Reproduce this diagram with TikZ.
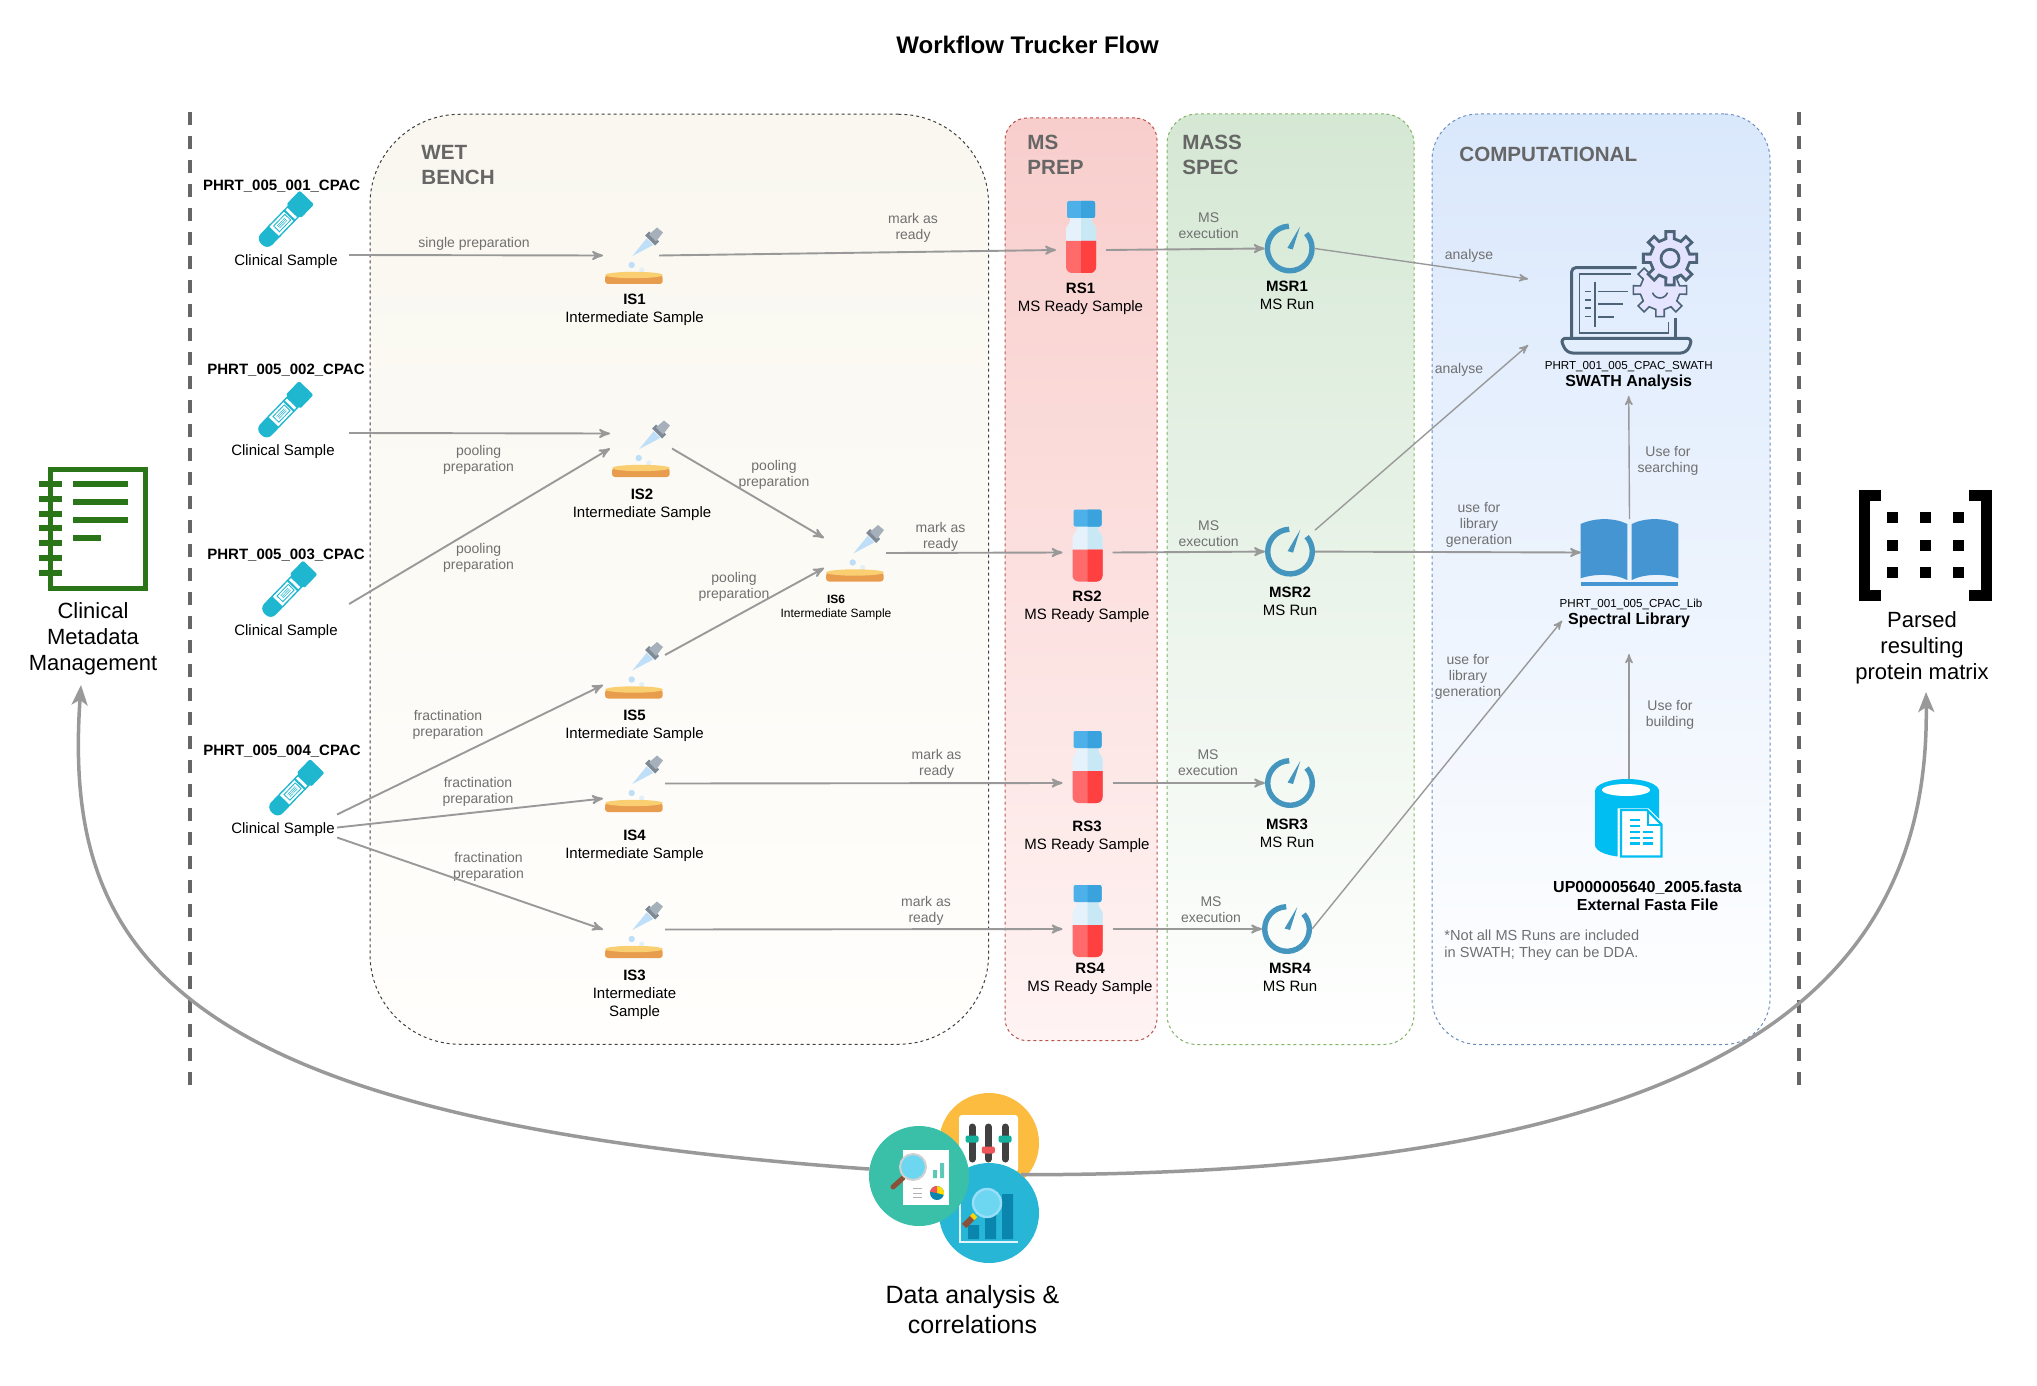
\documentclass[tikz,border=0pt]{standalone}
\usepackage{fontspec}
\setmainfont{Liberation Sans}
\usetikzlibrary{positioning, calc, arrows, arrows.meta, shapes}

\definecolor{linegray}{HTML}{999999}
\definecolor{labelgray}{HTML}{707070}
\definecolor{headgray}{HTML}{666666}
\definecolor{tubeblue}{HTML}{1FB6D0}
\definecolor{gaugeblue}{HTML}{4596BF}
\definecolor{laptopgray}{HTML}{4D6478}
\definecolor{bookblue}{HTML}{4595D3}
\definecolor{fastablue}{HTML}{00BEF2}
\definecolor{notegreen}{HTML}{2A7518}
\definecolor{magglass}{HTML}{6DD6F0}
\definecolor{handle}{HTML}{8B5138}
\definecolor{wettop}{HTML}{F9F7EF}
\definecolor{wetbot}{HTML}{FFFEFC}
\definecolor{prepdraw}{HTML}{B85450}
\definecolor{preptop}{HTML}{F8CECC}
\definecolor{prepbot}{HTML}{FFF3F3}
\definecolor{massdraw}{HTML}{82B366}
\definecolor{masstop}{HTML}{D5E8D4}
\definecolor{compdraw}{HTML}{6C8EBF}
\definecolor{comptop}{HTML}{DAE8FC}
\definecolor{circyellow}{HTML}{FBBC3F}
\definecolor{circblue}{HTML}{27B6D6}
\definecolor{circgreen}{HTML}{3ABFA8}
\definecolor{knobteal}{HTML}{16B19C}
\definecolor{knobred}{HTML}{F05658}
\definecolor{barblue}{HTML}{0A85AD}
\definecolor{glassblue}{HTML}{BFDFF8}
\definecolor{dropblue}{HTML}{E2F0FA}
\definecolor{collargray}{HTML}{7D8A96}
\definecolor{bulbgray}{HTML}{A5B0BA}
\definecolor{dishtop}{HTML}{F9CF72}
\definecolor{dishside}{HTML}{E89C4E}
\definecolor{vialleft}{HTML}{E6F2FB}
\definecolor{vialright}{HTML}{C8E8F5}
\definecolor{redleft}{HTML}{FF6B6B}
\definecolor{redright}{HTML}{FF4040}
\definecolor{capleft}{HTML}{4DB0E8}
\definecolor{capright}{HTML}{3AA3DD}

\tikzset{
  panel/.style={draw=#1, line width=.5pt, dash pattern=on 1.5pt off 1.5pt, inner sep=0pt, outer sep=0pt},
  head/.style={font=\fontsize{10.3}{12.4}\selectfont\bfseries, text=headgray, align=left, anchor=west, inner sep=0pt, yshift=-.4pt},
  flowlabel/.style={font=\fontsize{7}{8}\selectfont, text=labelgray, align=center, inner sep=1pt, yshift=-.8pt},
  item/.style={font=\fontsize{7.5}{9}\selectfont, align=center, inner sep=1pt, yshift=-1pt},
  smallitem/.style={font=\fontsize{6}{7}\selectfont, align=center, inner sep=1pt, yshift=-1pt},
  big/.style={font=\fontsize{11}{13}\selectfont, align=center, inner sep=1pt, yshift=-1pt},
  port/.style={inner sep=0pt, outer sep=0pt, minimum width=#1},
  isport/.style={port=31pt, minimum height=15pt},
  rsport/.style={port=25pt, minimum height=15pt},
  msrport/.style={port=25pt, minimum height=21.5pt},
  flow/.style={every edge/.append style={->, draw=linegray, line width=.95pt}},
  thinflow/.style={every edge/.append style={->, draw=linegray, line width=.7pt}},
  bigflow/.style={-{Stealth[length=10pt, width=8pt, inset=2.5pt]}, draw=linegray, line width=1.75pt},
  border/.style={draw=headgray, line width=2pt, dash pattern=on 6.7pt off 5.3pt},
  disc/.style={circle, fill=#1, minimum size=50pt, inner sep=0pt, outer sep=0pt},
  tube/.pic={
    \begin{scope}[rotate=46]
      \fill[tubeblue, rounded corners=3.5pt] (-33,-8) rectangle (-6,8);
      \fill[tubeblue] (-15,-8) rectangle (14,8);
      \fill[white] (-15,-6.5) rectangle (11,6.5);
      \fill[tubeblue] (-12,-4.5) rectangle (5,4.5);
      \fill[white] (-11,-3.5) rectangle (4,3.5);
      \draw[tubeblue, line width=.25pt] (-9,-1.6) -- (2,-1.6) (-9,0) -- (2,0) (-9,1.6) -- (2,1.6);
      \fill[tubeblue] (6,-8) rectangle (8,8);
      \fill[tubeblue, rounded corners=1pt] (13,-10) rectangle (32,10);
    \end{scope}
  },
  dropper/.pic={
    \fill[glassblue] (-1.7,.5) -- (12.7,-17.2) -- (19.3,-10.5) -- cycle;
    \fill[collargray] (11,-20) -- (15,-24) -- (25,-14) -- (21,-10) -- cycle;
    \fill[bulbgray] (15,-21) -- (23,-28) -- (29,-23) -- (22,-14) -- cycle;
    \fill[glassblue] (-2.3,9.5) circle[radius=1.6pt];
    \fill[dropblue] (7.7,14.5) circle[radius=1.3pt];
    \fill[dishside, rounded corners=1.5pt] (-29,19.5) -- (-29,28.5) -- (28.7,28.5) -- (28.7,19.5) -- cycle;
    \fill[dishtop] (0,19.5) ellipse[x radius=14.4pt, y radius=1.6pt];
  },
  bottle/.pic={
    \fill[vialleft] (-11,-33) -- (-11,-28) -- (-15,-22) -- (-15,-9) -- (15,-9) -- (15,-22) -- (11,-28) -- (11,-33) -- cycle;
    \fill[vialright] (0,-33) -- (11,-33) -- (11,-28) -- (15,-22) -- (15,-9) -- (0,-9) -- cycle;
    \fill[redleft] (-15,-9) -- (-15,5) [rounded corners=3pt] -- (-15,23) -- (15,23) [sharp corners] -- (15,-9) -- cycle;
    \fill[redright] (0,-9) -- (0,23) [rounded corners=3pt] -- (15,23) [sharp corners] -- (15,-9) -- cycle;
    \fill[capleft, rounded corners=1pt] (-14,-49) rectangle (14,-32);
    \fill[capright] (0,-49) [rounded corners=1pt] -- (14,-49) -- (14,-32) [sharp corners] -- (0,-32) -- cycle;
  },
  gauge/.pic={
    \draw[gaugeblue, line width=2.7pt] (92:11.15pt) arc[start angle=92, end angle=402, radius=11.15pt];
    \fill[gaugeblue] (10.3,-22) -- (3,1) -- (-2.4,-.5) -- cycle;
  },
  laptop/.pic={
    \begin{scope}[draw=laptopgray, line width=1.5pt, fill=none]
      \draw[rounded corners=2pt] (8,-44.3) -- (-57,-44.3) -- (-57,26.3);
      \draw (47,5.7) -- (47,26.3);
      \draw[rounded corners=3pt] (-68.7,26.3) -- (64,26.3) -- (58,41) -- (-62,41) -- cycle;
    \end{scope}
    \begin{scope}[draw=laptopgray, line width=.8pt]
      \draw (2,-37.7) -- (-49.4,-37.7) -- (-49.4,21.3) -- (39.6,21.3) -- (39.6,9.7);
      \draw (-33.7,-30.3) -- (-33.7,14.7);
      \draw (-30.4,-20.3) -- (-1,-20.3) (-30.4,-8) -- (-6,-8) (-30.4,5.3) -- (-14.7,5.3);
      \foreach \y in {-20.3,-12,-3.7,4.7} \draw (-43.7,\y) -- (-37.7,\y);
      \begin{scope}[shift={(31.3,-22)}]
        \draw[fill=blue!10!white] (-12:10pt) foreach \a in {0,45,...,315} {-- (\a-12:10pt) -- (\a-9:13.5pt) -- (\a+9:13.5pt) -- (\a+12:10pt)} -- cycle;
        \draw (-160:4pt) arc[start angle=-160, end angle=-20, radius=4pt];
      \end{scope}
    \end{scope}
    \begin{scope}[shift={(41.3,-53.7)}, draw=laptopgray, line width=1.4pt]
      \draw[fill=blue!11!white] (-12:10pt) foreach \a in {0,45,...,315} {-- (\a-12:10pt) -- (\a-9:13.5pt) -- (\a+9:13.5pt) -- (\a+12:10pt)} -- cycle;
      \draw (0,0) circle[radius=4.5pt];
    \end{scope}
  },
  book/.pic={
    \fill[bookblue] (-48.8,-28.5) .. controls (-35,-35) and (-15,-35) .. (-2.2,-28.5) -- (-2.2,27.5) .. controls (-15,21) and (-35,21) .. (-48.8,25.8) -- cycle;
    \fill[bookblue] (48.8,-28.5) .. controls (35,-35) and (15,-35) .. (2.2,-28.5) -- (2.2,27.5) .. controls (15,21) and (35,21) .. (48.8,25.8) -- cycle;
    \fill[bookblue] (-48.8,29.5) rectangle (48.8,33);
  },
  fastadb/.pic={
    \fill[fastablue] (-34,-27) -- (-34,27) arc[start angle=180, end angle=360, x radius=16pt, y radius=6pt] -- (30,-27) arc[start angle=0, end angle=180, x radius=16pt, y radius=6pt] -- cycle;
    \fill[white] (-3,-28) ellipse[x radius=12pt, y radius=3pt];
    \fill[white] (-11.3,-9.7) -- (19.3,-9.7) -- (34.3,5.3) -- (34.3,39.7) -- (-11.3,39.7) -- cycle;
    \draw[fastablue, line width=1.2pt] (-8,-8) -- (18,-8) -- (32.5,6.5) -- (32.5,38.5) -- (-8,38.5) -- cycle;
    \draw[fastablue, line width=1.2pt] (19,-8) -- (19,7) -- (32.5,7);
    \draw[fastablue, line width=1.2pt] (1,2) -- (11,2) (1,8) -- (11,8) (1,13.7) -- (11,13.7) (1,19.7) -- (11,19.7) (1,25.3) -- (11,25.3)
      (14.3,13.7) -- (24.3,13.7) (14.3,19.7) -- (24.3,19.7) (14.3,25.3) -- (24.3,25.3);
  },
  notebook/.pic={
    \draw[notegreen, line width=2.65pt] (-43.35,-58.35) rectangle (51.35,60.35);
    \foreach \y in {-44,-29,-14,0,15,30,45} \draw[notegreen, line width=2.65pt] (-55,\y) -- (-32,\y);
    \foreach \y in {-44,-26,-8} \draw[notegreen, line width=2.65pt] (-21,\y) -- (34,\y);
    \draw[notegreen, line width=2.65pt] (-21,10) -- (7,10);
  },
  matrixicon/.pic={
    \draw[black, line width=5.5pt] (-44,-50) -- (-61,-50) -- (-61,50) -- (-44,50);
    \draw[black, line width=5.5pt] (44,-50) -- (61,-50) -- (61,50) -- (44,50);
    \foreach \x in {-33,0,33} \foreach \y in {-27.5,0,27.5}
      \fill[black] (\x-5.5,\y-5.5) rectangle (\x+5.5,\y+5.5);
  }
}

\begin{document}
\begin{tikzpicture}[x=.5pt,y=-.5pt,>=stealth',font=\fontsize{7.5}{9}\selectfont]
  \useasboundingbox (0,0) rectangle (2037,1385);

  \node[font=\fontsize{12}{14}\selectfont\bfseries] (title) at (1027.6,45) {Workflow Trucker Flow};

  % swim lanes
  \node[panel=black!75, rounded corners=45pt, top color=wettop, bottom color=wetbot, minimum width=309.3pt, minimum height=465pt] (wet) at (679.3,579.25) {};
  \node[panel=prepdraw, rounded corners=11pt, top color=preptop, bottom color=prepbot, minimum width=76pt, minimum height=461.3pt] (prep) at (1081,579.3) {};
  \node[panel=massdraw, rounded corners=15pt, top color=masstop, bottom color=white, minimum width=123.5pt, minimum height=465.25pt] (mass) at (1290.5,579.25) {};
  \node[panel=compdraw, rounded corners=23pt, top color=comptop, bottom color=white, minimum width=169pt, minimum height=465.25pt] (comp) at (1601,579.25) {};

  \node[head] (wethead) at (421,164) {WET\\BENCH};
  \node[head] (prephead) at (1027,154) {MS\\PREP};
  \node[head] (masshead) at (1182,154) {MASS\\SPEC};
  \node[head] (comphead) at (1459,153.5) {COMPUTATIONAL};

  \coordinate (lefttop) at (190,112);
  \coordinate (leftbot) at (190,1085);
  \coordinate (righttop) at (1799,112);
  \coordinate (rightbot) at (1799,1085);
  \draw[border] (lefttop) -- (leftbot);
  \draw[border] (righttop) -- (rightbot);

  % samples
  \foreach \n/\px/\py/\lx/\ly/\tx/\ty/\id in {
      1/284.6/220.5/286/260/281.7/184.6/001,
      2/284/411/283/450/286/368/002,
      3/288/590.5/286/630/286/552.7/003,
      4/295/789/283/827.5/282/749.5/004}{
    \node[port=27.5pt, minimum height=28pt] (s\n) at (\px,\py) {};
    \pic at (s\n) {tube};
    \node[item] (cs\n) at (\lx,\ly) {Clinical Sample};
    \node[item, font=\fontsize{7.5}{9}\selectfont\bfseries] (id\n) at (\tx,\ty) {PHRT\_005\_\id\_CPAC};
  }

  % intermediate samples
  \foreach \n/\px/\py in {1/634/255.5, 2/641/448.5, 5/634/670, 4/634/783.5, 3/634/929.5, 6/855/553}{
    \node[isport] (is\n) at (\px,\py) {};
    \pic at (is\n) {dropper};
  }
  \node[item] (is1label) at (634.5,308) {\textbf{IS1}\\Intermediate Sample};
  \node[item] (is2label) at (642,503) {\textbf{IS2}\\Intermediate Sample};
  \node[item] (is5label) at (634.5,723.5) {\textbf{IS5}\\Intermediate Sample};
  \node[item] (is4label) at (634.5,843.5) {\textbf{IS4}\\Intermediate Sample};
  \node[item] (is3label) at (634.5,992.5) {\textbf{IS3}\\Intermediate\\Sample};
  \node[smallitem] (is6label) at (836,606) {\textbf{IS6}\\Intermediate Sample};

  % ms ready samples and runs
  \foreach \n/\rx/\ry/\d/\tx/\ty/\gx/\gy/\lx/\ly in {
      1/1081/250/0pt/1080.5/297/1289.7/248.5/1287/293,
      2/1087.5/552.5/-3pt/1087/605/1290/551.6/1290/599,
      3/1087.5/783/1.5pt/1087/834.5/1290/783/1287/831,
      4/1087.5/929/-2.5pt/1090/977/1287/929/1290/975}{
    \node[rsport] (rs\n) at (\rx,\ry) {};
    \pic at ([yshift=\d]rs\n) {bottle};
    \node[item] (rs\n label) at (\tx,\ty) {\textbf{RS\n}\\MS Ready Sample};
    \node[msrport] (msr\n) at (\gx,\gy) {};
    \pic at (msr\n) {gauge};
    \node[item] (msr\n label) at (\lx,\ly) {\textbf{MSR\n}\\MS Run};
  }

  % computational
  \node[port=100.5pt, minimum height=33pt] (swath) at (1628.7,312) {};
  \pic at (swath) {laptop};
  \node[item, font=\fontsize{5.8}{7}\selectfont] (swathid) at (1628.7,364.5) {PHRT\_001\_005\_CPAC\_SWATH};
  \node[item, font=\fontsize{8}{9}\selectfont\bfseries, inner sep=2.8pt] (swathlabel) at (1628.7,380.5) {SWATH Analysis};
  \node[port=48.5pt, minimum height=33.5pt] (library) at (1629.5,552.5) {};
  \pic at (library) {book};
  \node[item, font=\fontsize{5.8}{7}\selectfont] (libid) at (1631,602.5) {PHRT\_001\_005\_CPAC\_Lib};
  \node[item, font=\fontsize{8}{9}\selectfont\bfseries, inner sep=2.8pt] (liblabel) at (1629,618.6) {Spectral Library};
  \node[port=34pt, minimum height=39pt] (fasta) at (1629,818) {};
  \pic at (fasta) {fastadb};
  \node[item, font=\fontsize{8}{9}\selectfont\bfseries] (fastalabel) at (1647.5,893.5) {UP000005640\_2005.fasta\\External Fasta File};
  \node[item, font=\fontsize{7.3}{8.5}\selectfont, text=labelgray, align=left, anchor=west] (note) at (1442,943.5) {*Not all MS Runs are included\\in SWATH; They can be DDA.};

  % outer icons
  \node[port=50pt, minimum height=62pt] (meta) at (94,528) {};
  \pic at (meta) {notebook};
  \node[big] (metalabel) at (93,636.5) {Clinical\\Metadata\\Management};
  \node[port=66pt, minimum height=55pt] (matrix) at (1925,545) {};
  \pic at (matrix) {matrixicon};
  \node[big] (matrixlabel) at (1922,646) {Parsed\\resulting\\protein matrix};

  \node[disc=circyellow] (yellowc) at (989,1143) {};
  \fill[white, rounded corners=1.5pt] (959,1115) rectangle (1018,1172);
  \foreach \x/\k/\c in {972/1139/knobteal, 988.3/1150/knobred, 1005/1139/knobteal}{
    \draw[black!75, line width=3.5pt, line cap=round] (\x,1127) -- (\x,1159);
    \fill[\c, rounded corners=1pt] (\x-6.5,\k-3.5) rectangle (\x+6.5,\k+3.5);
  }
  \node[disc=circblue] (bluec) at (989,1213) {};
  \fill[barblue] (968,1225) rectangle (979,1239) (985,1213) rectangle (996,1239) (1002,1194) rectangle (1013,1239);
  \draw[white!88!cyan, line width=1.2pt] (960,1195) -- (960,1242) -- (1018,1242);
  \draw[handle, line width=3pt] (973,1217) -- (964,1226);
  \draw[yellow!70!orange, line width=3pt] (975,1215) -- (972,1218);
  \fill[magglass] (987,1203) circle[radius=7pt];
  \draw[white!60!cyan, line width=1.2pt] (987,1203) circle[radius=7pt];
  \node[disc=circgreen] (greenc) at (919,1176) {};
  \fill[white] (903,1150) rectangle (949,1205);
  \draw[handle, line width=2.5pt, line cap=round] (903,1178) -- (893,1187);
  \fill[magglass] (913,1167) circle[radius=6.5pt];
  \draw[black!18, line width=1pt] (913,1167) circle[radius=6.5pt];
  \fill[knobteal!70!white] (933,1170) rectangle (937,1178) (940,1163) rectangle (944,1178);
  \draw[black!30, line width=.4pt] (913,1188) -- (922,1188) (913,1193) -- (922,1193) (913,1197) -- (922,1197);
  \fill[barblue] (937,1193) circle[radius=3.5pt];
  \fill[yellow!80!orange] (937,1193) -- ++(90:3.5pt) arc[start angle=90, end angle=-15, radius=3.5pt] -- cycle;
  \fill[knobred] (937,1193) -- ++(90:3.5pt) arc[start angle=90, end angle=170, radius=3.5pt] -- cycle;
  \node[item, font=\fontsize{12.5}{15}\selectfont] (analysislabel) at (972.5,1307.5) {Data analysis \&\\correlations};

  % edge labels
  \node[flowlabel] (lab1) at (474,242) {single preparation};
  \node[flowlabel] (lab2) at (478.6,458) {pooling\\preparation};
  \node[flowlabel] (lab3) at (478.6,556) {pooling\\preparation};
  \node[flowlabel] (lab4) at (774,473) {pooling\\preparation};
  \node[flowlabel] (lab5) at (734,585) {pooling\\preparation};
  \node[flowlabel] (lab6) at (448,723.5) {fractination\\preparation};
  \node[flowlabel] (lab7) at (478,790) {fractination\\preparation};
  \node[flowlabel] (lab8) at (488.5,865) {fractination\\preparation};
  \node[flowlabel] (lab9) at (913,226) {mark as\\ready};
  \node[flowlabel] (lab10) at (940.5,535) {mark as\\ready};
  \node[flowlabel] (lab11) at (936.6,762.5) {mark as\\ready};
  \node[flowlabel] (lab12) at (926,909) {mark as\\ready};
  \node[flowlabel] (lab13) at (1208.6,224) {MS\\execution};
  \node[flowlabel] (lab14) at (1208.6,532) {MS\\execution};
  \node[flowlabel] (lab15) at (1208,761.5) {MS\\execution};
  \node[flowlabel] (lab16) at (1211,908) {MS\\execution};
  \node[flowlabel] (lab17) at (1469,254) {analyse};
  \node[flowlabel] (lab18) at (1459,368) {analyse};
  \node[flowlabel] (lab19) at (1479,523.5) {use for\\library\\generation};
  \node[flowlabel] (lab20) at (1468,675) {use for\\library\\generation};
  \node[flowlabel] (lab21) at (1668,459) {Use for\\searching};
  \node[flowlabel] (lab22) at (1670,713) {Use for\\building};

  \path[flow]
    ([shift={(9,-7)}]cs1.east) edge (is1.west)
    ([shift={(12,-19)}]cs2.east) edge (is2.north west)
    ([shift={(9,-28)}]cs3.east) edge (is2.west)
    ([shift={(0,-15)}]cs4.east) edge (is5.south west)
    ([shift={(0,-2)}]cs4.east) edge (is4.south west)
    ([shift={(0,8)}]cs4.east) edge (is3.west)
    (is2.east) edge (is6.north west)
    (is5.north east) edge (is6.south west)
    ([xshift=-3pt]is1.east) edge (rs1.west)
    (is6.east) edge (rs2.west)
    (is4.east) edge (rs3.west)
    (is3.east) edge (rs4.west)
    (rs1.east) edge (msr1.west)
    (rs2.east) edge (msr2.west)
    (rs3.east) edge (msr3.west)
    (rs4.east) edge (msr4.west)
    (msr2.east) edge (library.west);
  \path[thinflow]
    (msr1.east) edge (swath.north west)
    (msr2.north east) edge (swath.south west)
    (msr4.east) edge (liblabel.west)
    (library.north) edge (swathlabel.south)
    (fasta.north) edge ([yshift=-10pt]liblabel.south);

  \coordinate (metaend) at (81,685);
  \coordinate (matrixend) at (1926,692);
  \draw[bigflow] (greenc.172) .. controls (180,1120) and (62,960) .. (metaend);
  \draw[bigflow] (bluec.50) .. controls (1733,1175) and (1930,981) .. (matrixend);
\end{tikzpicture}
\end{document}
